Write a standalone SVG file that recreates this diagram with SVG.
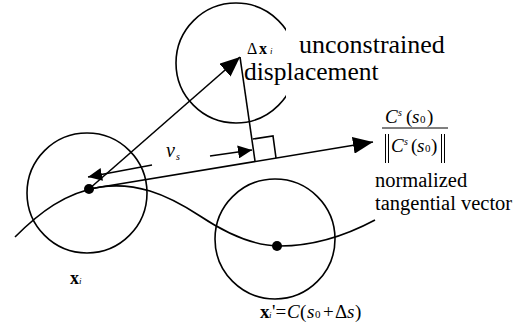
<svg xmlns="http://www.w3.org/2000/svg" width="528" height="336" viewBox="0 0 528 336">
<style>
.ln{fill:none;stroke:#000;stroke-width:1.6}
text{font-family:"Liberation Serif","Times New Roman",serif;fill:#000}
.i{font-style:italic}
.b{font-weight:bold}
</style>
<defs>
<marker id="big" markerUnits="userSpaceOnUse" markerWidth="20" markerHeight="17" refX="20" refY="8.5" orient="auto"><path d="M0,0 L20,8.5 L0,17 z" fill="#000"/></marker>
<marker id="small" markerUnits="userSpaceOnUse" markerWidth="14" markerHeight="13" refX="14" refY="6.5" orient="auto"><path d="M0,0 L14,6.5 L0,13 z" fill="#000"/></marker>
</defs>
<rect width="528" height="336" fill="#fff"/>
<g id="circle-top"><circle class="ln" cx="236" cy="63" r="60"/></g>
<g id="circle-left"><circle class="ln" cx="87" cy="193" r="60"/></g>
<g id="circle-right"><circle class="ln" cx="275" cy="239" r="60"/></g>
<g id="connectors">
<path id="curve" class="ln" d="M15,237 C40,212 65,193 100,187 C135,182 165,193 200,216 C230,236 255,246 280,246 C315,246 345,236 375,220"/>
<line class="ln" x1="89" y1="189" x2="240" y2="57" marker-end="url(#big)"/>
<line class="ln" x1="89" y1="189" x2="373" y2="142" marker-end="url(#big)"/>
<line class="ln" x1="240" y1="57" x2="255" y2="161"/>
<polyline class="ln" points="252.8,139 273,136 276,158"/>
<line class="ln" x1="152" y1="165" x2="88" y2="177" marker-end="url(#small)"/>
<line class="ln" x1="210" y1="156" x2="252" y2="150" marker-end="url(#small)"/>
</g>
<g id="point-xi"><circle cx="89" cy="189" r="5" fill="#000"/>
<text y="284"><tspan x="70" class="b" font-size="18">x</tspan><tspan x="79" class="i" font-size="9">i</tspan></text></g>
<g id="point-xi-prime"><circle cx="277" cy="246" r="5" fill="#000"/>
<text y="318" font-size="19"><tspan x="260" class="b">x</tspan><tspan x="269" class="i" font-size="9">i</tspan><tspan x="272">'=</tspan><tspan x="287" class="i">C</tspan><tspan x="300">(</tspan><tspan x="307" class="i">s</tspan><tspan x="315" font-size="11">0</tspan><tspan x="323">+</tspan><tspan x="335">Δ</tspan><tspan x="347" class="i">s</tspan><tspan x="355">)</tspan></text></g>
<g id="label-displacement">
<rect x="286" y="26" width="164" height="74" fill="#fff"/>
<text y="54" font-size="16"><tspan x="247">Δ</tspan><tspan x="259" class="b">x</tspan><tspan x="270" class="i" font-size="9">i</tspan></text>
<text x="299" y="53" font-size="26">unconstrained</text>
<text x="244" y="80" font-size="25.5">displacement</text>
</g>
<g id="label-vs"><text y="157" font-size="20"><tspan x="166" class="i">v</tspan><tspan x="176" y="160" class="i" font-size="10">s</tspan></text></g>
<g id="label-tangent">
<text y="123" font-size="19"><tspan x="385" class="i">C</tspan><tspan x="398" y="116" class="i" font-size="10">s</tspan><tspan x="406" y="123">(</tspan><tspan x="412" class="i">s</tspan><tspan x="420" font-size="11">0</tspan><tspan x="427">)</tspan></text>
<line x1="382" y1="128" x2="448" y2="128" stroke="#000" stroke-width="1"/>
<g stroke="#000" stroke-width="1"><line x1="385.5" y1="134" x2="385.5" y2="163"/><line x1="388.5" y1="134" x2="388.5" y2="163"/><line x1="441.5" y1="134" x2="441.5" y2="163"/><line x1="444.5" y1="134" x2="444.5" y2="163"/></g>
<text y="152" font-size="19"><tspan x="391" class="i">C</tspan><tspan x="404" y="145" class="i" font-size="10">s</tspan><tspan x="411" y="152">(</tspan><tspan x="417" class="i">s</tspan><tspan x="425" font-size="11">0</tspan><tspan x="431">)</tspan></text>
<text x="375" y="187" font-size="20.5">normalized</text>
<text x="375" y="209.5" font-size="20.5">tangential vector</text>
</g>
</svg>
